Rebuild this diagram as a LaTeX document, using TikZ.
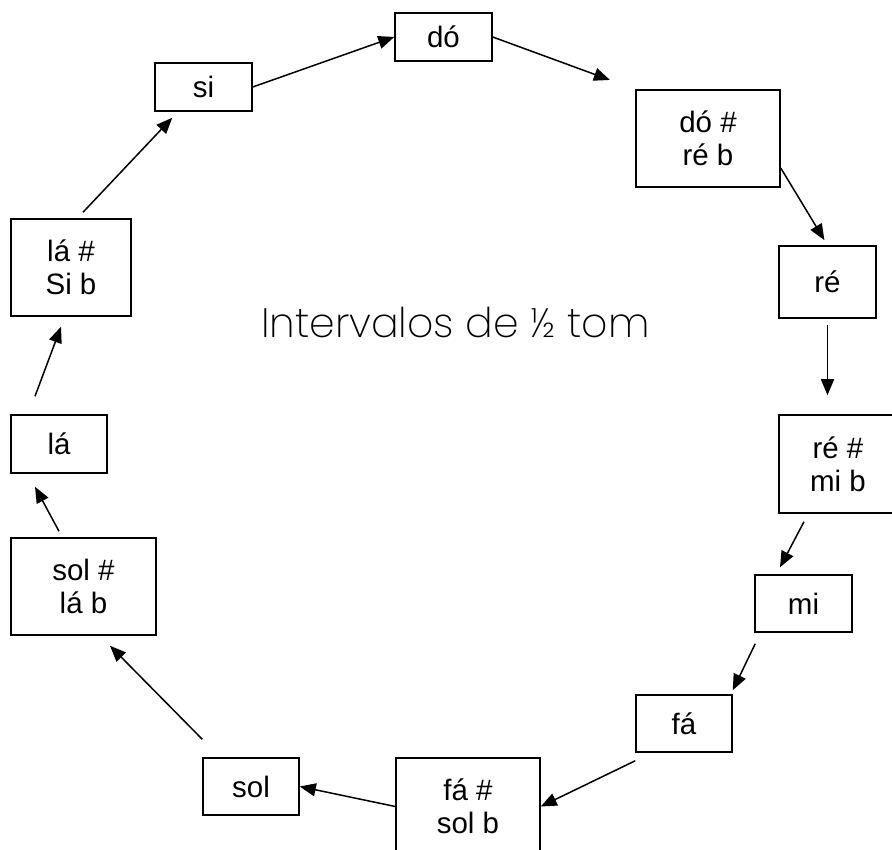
\documentclass[tikz,border=0pt]{standalone}
\usepackage{fontspec}
\setmainfont{Liberation Sans}
\newfontfamily\titlefont{Poppins ExtraLight}
\usetikzlibrary{arrows.meta,calc}
\begin{document}
\begin{tikzpicture}[x=1pt,y=-1pt,
  notebox/.style={draw,line width=1.5pt,inner sep=0pt,align=center,
    font=\fontsize{29.5}{33}\selectfont},
  arr/.style={line width=1.5pt,-{Triangle[length=16pt,width=13pt]}}]
\fill[white] (0,0) rectangle (892,850);
\useasboundingbox (0,0) rectangle (892,850);
% boxes
\node[notebox,minimum width=97pt,minimum height=48pt] (do) at (443.5,37) {dó};
\node[notebox,minimum width=97pt,minimum height=48pt] (si) at (203.5,87) {si};
\node[notebox,minimum width=144pt,minimum height=97pt] (dos) at (708,138.5) {dó \#\\ré b};
\node[notebox,minimum width=97pt,minimum height=72pt] (re) at (827.5,282) {ré};
\node[notebox,minimum width=118pt,minimum height=98pt] (res) at (838,464) {ré \#\\mi b};
\node[notebox,minimum width=97pt,minimum height=57pt] (mi) at (803.5,603.5) {mi};
\node[notebox,minimum width=96pt,minimum height=57pt] (fa) at (684,723.5) {fá};
\node[notebox,minimum width=144pt,minimum height=97pt] (fas) at (468,806.5) {fá \#\\sol b};
\node[notebox,minimum width=96pt,minimum height=57pt] (sol) at (251,786.5) {sol};
\node[notebox,minimum width=145pt,minimum height=97pt] (sols) at (83.5,586.5) {sol \#\\lá b};
\node[notebox,minimum width=96pt,minimum height=58pt] (la) at (59,444) {lá};
\node[notebox,minimum width=120pt,minimum height=97pt] (las) at (71,267.5) {lá \#\\Si b};
% title
\node[anchor=base,inner sep=0pt,font=\titlefont\fontsize{41}{48}\selectfont] (title) at (455.5,338) {Intervalos de ½ tom};
% connectors
\draw[arr] (si.east) -- (do.west);
\draw[arr,shorten >=27pt] (do.east) -- (dos.north west);
\draw[arr,shorten >=6pt] ($(dos.east)+(0,29.5)$) -- (re.north);
\draw[arr,shorten <=6pt,shorten >=19pt] (re.south) -- (re.south |- res.north);
\draw[arr] ($(res.south)+(-34,8)$) -- ($(mi.north)+(-23.5,-7)$);
\draw[arr] ($(mi.south west)+(1,11)$) -- ($(fa.north east)+(0,-4)$);
\draw[arr] ($(fa.south west)+(0,8)$) -- (fas.east);
\draw[arr] (fas.west) -- (sol.east);
\draw[arr] ($(sol.north west)+(0,-18)$) -- ($(sols.south)+(26.5,10)$);
\draw[arr] ($(sols.north)+(-24.5,-6)$) -- ($(la.south)+(-24,13)$);
\draw[arr] ($(la.north)+(-24,-18)$) -- ($(las.south)+(-10,10)$);
\draw[arr] ($(las.north)+(12,-6)$) -- ($(si.south west)+(18,6)$);
\end{tikzpicture}
\end{document}
